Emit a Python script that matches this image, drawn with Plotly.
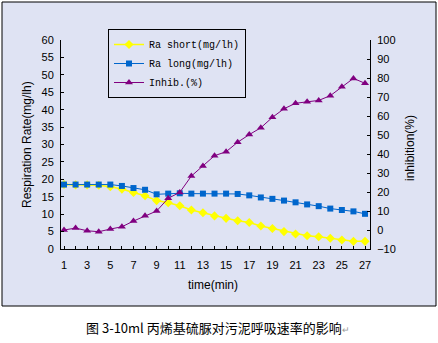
import plotly.graph_objects as go

time_min = list(range(1, 28))
ra_short = [18.5, 18.4, 18.4, 18.3, 17.9, 17.2, 16.2, 15.3, 13.9, 13.3, 12.4, 11.2, 10.4, 9.5,
            8.8, 8.1, 7.6, 6.6, 5.9, 5.0, 4.3, 3.8, 3.5, 3.1, 2.6, 2.2, 2.2]
ra_long = [18.5, 18.5, 18.5, 18.5, 18.5, 18.1, 17.5, 17.0, 15.7, 15.9, 16.0, 15.9, 15.9, 15.9,
           15.9, 15.8, 15.4, 14.8, 14.4, 13.9, 13.4, 12.8, 12.3, 11.6, 11.2, 10.8, 10.1]
inhib = [0.0, 1.0, -0.4, -0.9, 0.5, 1.7, 4.7, 7.5, 10.0, 16.7, 19.8, 28.4, 33.7, 39.1,
         41.2, 46.2, 50.2, 53.8, 59.3, 63.8, 66.7, 67.5, 68.2, 70.7, 75.4, 79.8, 77.2]
x_ticks = list(range(1, 28))
x_ticktext = [str(v) if v % 2 == 1 else "" for v in x_ticks]

BG = "#dfe3f3"
tickfont = dict(family="Liberation Sans, Arial", size=11, color="black")

fig = go.Figure()
fig.add_trace(go.Scatter(x=time_min, y=ra_short, name="Ra short(mg/lh)", mode="lines+markers",
                         line=dict(color="#ffff00", width=1.5),
                         marker=dict(symbol="diamond", size=7, color="#ffff00")))
fig.add_trace(go.Scatter(x=time_min, y=ra_long, name="Ra long(mg/lh)", mode="lines+markers",
                         line=dict(color="#0066cc", width=1),
                         marker=dict(symbol="square", size=6, color="#0066cc")))
fig.add_trace(go.Scatter(x=time_min, y=inhib, name="Inhib.(%)", mode="lines+markers", yaxis="y2",
                         line=dict(color="#800080", width=1),
                         marker=dict(symbol="triangle-up", size=7, color="#800080")))

def px(xp):
    return (xp - 61) / 309

def py(yp):
    return (249 - yp) / 209

fig.update_layout(
    width=438, height=343,
    margin=dict(l=61, r=68, t=40, b=94, pad=0),
    paper_bgcolor="white", plot_bgcolor="rgba(0,0,0,0)",
    showlegend=True,
    legend=dict(x=px(108), y=py(29), xanchor="left", yanchor="top",
                bgcolor=BG, bordercolor="black", borderwidth=1,
                font=dict(family="Liberation Mono, Courier New", size=10, color="black"),
                tracegroupgap=0, itemwidth=30),
    xaxis=dict(range=[0.74, 27.43], tickvals=x_ticks, ticktext=x_ticktext,
               ticks="inside", ticklen=3, tickcolor="black", showgrid=False, zeroline=False,
               showline=True, linecolor="black", linewidth=1, tickfont=tickfont, ticklabelstandoff=6),
    yaxis=dict(range=[0, 60], tickvals=list(range(0, 61, 5)), ticks="inside", ticklen=3,
               tickcolor="black", showgrid=False, zeroline=False, showline=True,
               linecolor="black", linewidth=1, tickfont=tickfont, ticklabelstandoff=4),
    yaxis2=dict(range=[-10, 100], tickvals=list(range(-10, 101, 10)), overlaying="y", side="right",
                ticks="inside", ticklen=3, tickcolor="black", showgrid=False, zeroline=False,
                showline=True, linecolor="black", linewidth=1, tickfont=tickfont, ticklabelstandoff=4),
    shapes=[dict(type="rect", xref="paper", yref="paper", x0=px(2), x1=px(436), y0=py(306), y1=py(2),
                 fillcolor=BG, line=dict(color="black", width=1), layer="below")],
    annotations=[
        dict(text="Respiration Rate(mg/lh)", xref="paper", yref="paper", x=px(27), y=py(145),
             xanchor="center", yanchor="middle",
             textangle=-90, showarrow=False, font=dict(family="Liberation Sans, Arial", size=12, color="black")),
        dict(text="inhibition(%)", xref="paper", yref="paper", x=px(410), y=py(148),
             xanchor="center", yanchor="middle",
             textangle=-90, showarrow=False, font=dict(family="Liberation Sans, Arial", size=12, color="black")),
        dict(text="time(min)", xref="paper", yref="paper", x=px(213), y=py(285),
             xanchor="center", yanchor="middle",
             showarrow=False, font=dict(family="Liberation Sans, Arial", size=12, color="black")),
        dict(text="图 3-10ml 丙烯基硫脲对污泥呼吸速率的影响<span style='color:#999999;font-size:9px'>↵</span>",
             xref="paper", yref="paper", x=px(218), y=py(327), xanchor="center", yanchor="middle",
             showarrow=False, font=dict(family="Noto Sans CJK SC", size=13, color="black")),
    ],
)

fig.write_html("out.html")
